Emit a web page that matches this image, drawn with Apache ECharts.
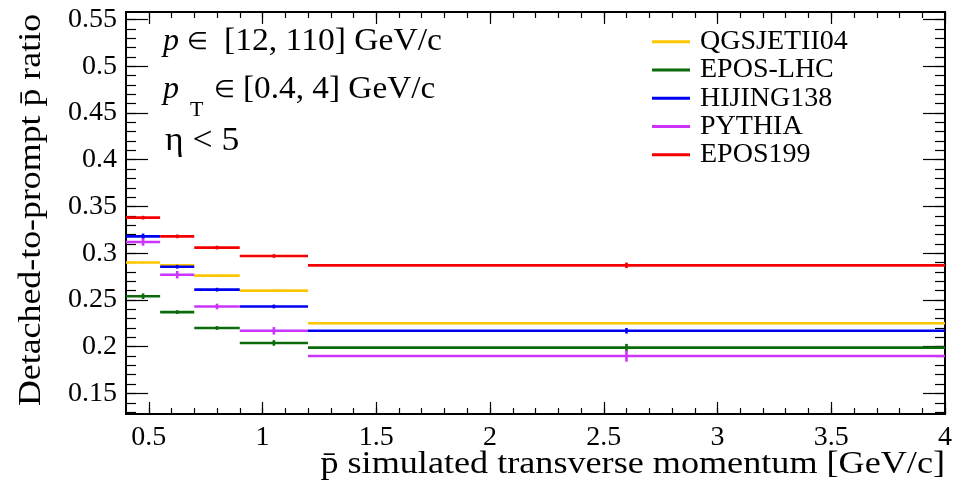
<!DOCTYPE html>
<html>
<head>
<meta charset="utf-8">
<script src="https://cdn.jsdelivr.net/npm/echarts@6/dist/echarts.min.js"></script>
<style>
  html, body { margin: 0; padding: 0; background: #fff; }
  #main { width: 955px; height: 487px; }
</style>
</head>
<body>
<div id="main"></div>
<script>
// bins in pT (GeV/c)
var binEdges = [0.4, 0.55, 0.7, 0.9, 1.2, 4];
var models = ['QGSJETII04', 'EPOS-LHC', 'HIJING138', 'PYTHIA', 'EPOS199'];

// ratio per bin
var qgsjet  = [0.290, 0.287, 0.276, 0.260, 0.225];
var eposLhc = [0.254, 0.237, 0.220, 0.204, 0.199];
var hijing  = [0.318, 0.2855, 0.261, 0.243, 0.217];
var pythia  = [0.312, 0.277, 0.243, 0.217, 0.190];
var epos199 = [0.338, 0.318, 0.306, 0.297, 0.287];

// stat errors
var qgsjetErr  = [0.001, 0.001, 0.001, 0.001, 0.001];
var eposLhcErr = [0.003, 0.002, 0.002, 0.003, 0.004];
var hijingErr  = [0.003, 0.002, 0.002, 0.002, 0.003];
var pythiaErr  = [0.004, 0.004, 0.003, 0.004, 0.006];
var epos199Err = [0.002, 0.002, 0.002, 0.002, 0.003];

var xTicks = [0.5, 1, 1.5, 2, 2.5, 3, 3.5, 4];
var yTicks = [0.15, 0.2, 0.25, 0.3, 0.35, 0.4, 0.45, 0.5, 0.55];

var colors = ['#fcc700', '#0b6b0b', '#0000f0', '#cc33ff', '#f40000'];
var values = [qgsjet, eposLhc, hijing, pythia, epos199];
var errors = [qgsjetErr, eposLhcErr, hijingErr, pythiaErr, epos199Err];

var xMinor = [], yMinor = [];
for (var i = 5; i <= 40; i++) xMinor.push(+(i / 10).toFixed(2));
for (var j = 13; j <= 55; j++) yMinor.push(+(j / 100).toFixed(2));

var FONT = 'Liberation Serif';
var XMIN = 0.4, XMAX = 4, YMIN = 0.128, YMAX = 0.558;

function mkX(pos, ticks, len, labels) {
    return {
        type: 'value', position: pos, min: XMIN, max: XMAX,
        axisLine: { show: true, onZero: false, lineStyle: { color: '#000', width: 2 } },
        splitLine: { show: false },
        axisTick: { show: true, inside: true, length: len, customValues: ticks, lineStyle: { color: '#000', width: 1.2 } },
        axisLabel: labels ? {
            show: true, customValues: ticks, margin: 10,
            fontFamily: FONT, fontSize: 28, color: '#000',
            formatter: function (v) { return String(v); }
        } : { show: false }
    };
}
function mkY(pos, ticks, len, labels) {
    return {
        type: 'value', position: pos, min: YMIN, max: YMAX,
        axisLine: { show: true, onZero: false, lineStyle: { color: '#000', width: 2 } },
        splitLine: { show: false },
        axisTick: { show: true, inside: true, length: len, customValues: ticks, lineStyle: { color: '#000', width: 1.2 } },
        axisLabel: labels ? {
            show: true, customValues: ticks, margin: 9,
            fontFamily: FONT, fontSize: 28, color: '#000',
            formatter: function (v) { return String(v); }
        } : { show: false }
    };
}

function renderBin(params, api) {
    var lo = api.coord([api.value(0), api.value(2)]);
    var hi = api.coord([api.value(1), api.value(2)]);
    var mid = (api.value(0) + api.value(1)) / 2;
    var top = api.coord([mid, api.value(2) + api.value(3)]);
    var bot = api.coord([mid, api.value(2) - api.value(3)]);
    var st = { stroke: api.visual('color'), lineWidth: 2.6 };
    return {
        type: 'group',
        children: [
            { type: 'line', shape: { x1: lo[0], y1: lo[1], x2: hi[0], y2: hi[1] }, style: st },
            { type: 'line', shape: { x1: top[0], y1: top[1], x2: bot[0], y2: bot[1] }, style: st }
        ]
    };
}

var series = models.map(function (name, k) {
    var data = [];
    for (var b = 0; b < binEdges.length - 1; b++) {
        data.push([binEdges[b], binEdges[b + 1], values[k][b], errors[k][b]]);
    }
    return {
        name: name, type: 'custom', renderItem: renderBin,
        color: colors[k], itemStyle: { color: colors[k] },
        encode: { x: [0, 1], y: 2 },
        data: data, z: 10 + k
    };
});

function txt(x, y, s, font, extra) {
    var el = { type: 'text', x: x, y: y, style: { text: s, font: font, fill: '#000', textVerticalAlign: 'middle' } };
    if (extra) for (var key in extra) el[key] = extra[key];
    return el;
}

var chart = echarts.init(document.getElementById('main'));
chart.setOption({
    backgroundColor: '#fff',
    animation: false,
    grid: { left: 126, right: 8, top: 12, bottom: 73 },
    xAxis: [
        mkX('bottom', xTicks, 12, true),
        mkX('bottom', xMinor, 6, false),
        mkX('top', xTicks, 12, false),
        mkX('top', xMinor, 6, false)
    ],
    yAxis: [
        mkY('left', yTicks, 22, true),
        mkY('left', yMinor, 10, false),
        mkY('right', yTicks, 22, false),
        mkY('right', yMinor, 10, false)
    ],
    legend: {
        data: models, orient: 'vertical', left: 652, top: 27.5, padding: 0,
        icon: 'rect', itemWidth: 38, itemHeight: 3, itemGap: 0,
        textStyle: { fontFamily: FONT, fontSize: 28, color: '#000', lineHeight: 28.3, padding: [0, 0, 0, 5] }
    },
    graphic: [
        txt(163, 42, 'p', 'italic 32px "Liberation Serif"'),
        txt(187, 43, '\u2208', '24px "Liberation Serif"'),
        txt(224, 42, '[12, 110] GeV/c', '32px "Liberation Serif"', { scaleX: 1.05 }),
        txt(163, 90, 'p', 'italic 32px "Liberation Serif"'),
        txt(190, 110, 'T', '22px "Liberation Serif"'),
        txt(214, 91, '\u2208', '24px "Liberation Serif"'),
        txt(243, 90, '[0.4, 4] GeV/c', '32px "Liberation Serif"', { scaleX: 1.04 }),
        txt(165, 141, '\u03b7 < 5', '33px "Liberation Serif"', { scaleX: 1.08 }),
        { type: 'text', x: 945, y: 465, scaleX: 1.13,
          style: { text: 'p\u0304 simulated transverse momentum [GeV/c]', font: '32px "Liberation Serif"', fill: '#000', textAlign: 'right', textVerticalAlign: 'middle' } },
        { type: 'text', x: 32, y: 210, rotation: Math.PI / 2, scaleX: 1.12,
          style: { text: 'Detached-to-prompt p\u0304 ratio', font: '32px "Liberation Serif"', fill: '#000', textAlign: 'center', textVerticalAlign: 'middle' } }
    ],
    series: series
});
</script>
</body>
</html>
